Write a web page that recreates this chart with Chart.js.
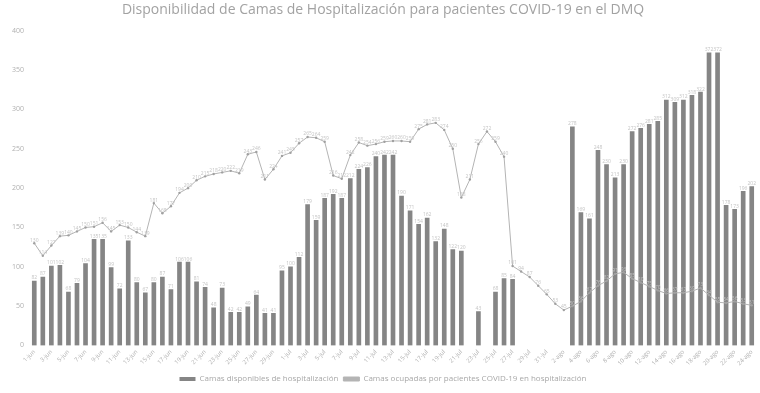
<!DOCTYPE html>
<html>
<head>
<meta charset="utf-8">
<script src="https://cdn.jsdelivr.net/npm/chart.js@4.4.0/dist/chart.umd.min.js"></script>
<style>
  html, body { margin: 0; padding: 0; background: #fff; }
  #wrap { width: 760px; height: 393px; }
</style>
</head>
<body>
<div id="wrap"><canvas id="myChart" width="760" height="393"></canvas></div>
<script>
// fechas (eje x)
const labels = [
  "1-jun","2-jun","3-jun","4-jun","5-jun","6-jun","7-jun","8-jun","9-jun","10-jun",
  "11-jun","12-jun","13-jun","14-jun","15-jun","16-jun","17-jun","18-jun","19-jun","20-jun",
  "21-jun","22-jun","23-jun","24-jun","25-jun","26-jun","27-jun","28-jun","29-jun","30-jun",
  "1-jul","2-jul","3-jul","4-jul","5-jul","6-jul","7-jul","8-jul","9-jul","10-jul",
  "11-jul","12-jul","13-jul","14-jul","15-jul","16-jul","17-jul","18-jul","19-jul","20-jul",
  "21-jul","22-jul","23-jul","24-jul","25-jul","26-jul","27-jul","28-jul","29-jul","30-jul",
  "31-jul","1-ago","2-ago","3-ago","4-ago","5-ago","6-ago","7-ago","8-ago","9-ago",
  "10-ago","11-ago","12-ago","13-ago","14-ago","15-ago","16-ago","17-ago","18-ago","19-ago",
  "20-ago","21-ago","22-ago","23-ago","24-ago"
];

// camas disponibles (barras)
const camasDisponibles = [
  82, 87, 101, 102, 68, 79, 104, 135, 135, 99,
  72, 133, 80, 67, 80, 87, 71, 106, 106, 81,
  74, 48, 73, 42, 42, 49, 64, 41, 41, 95,
  100, 112, 179, 159, 187, 192, 187, 212, 224, 226,
  240, 242, 242, 190, 171, 154, 162, 132, 148, 122,
  120, null, 43, null, 68, 85, 84, null, null, null,
  null, null, null, 278, 169, 161, 248, 230, 213, 230,
  272, 276, 281, 285, 312, 309, 312, 318, 322, 372,
  372, 178, 173, 196, 202
];

// camas ocupadas (linea)
const camasOcupadas = [
  130, 114, 127, 139, 140, 145, 150, 151, 156, 145,
  153, 150, 144, 139, 181, 168, 177, 194, 200, 210,
  215, 218, 220, 222, 219, 243, 246, 211, 224, 241,
  245, 257, 265, 264, 259, 216, 212, 242, 258, 254,
  256, 259, 260, 260, 259, 275, 281, 283, 274, 250,
  188, 211, 256, 272, 259, 240, 101, 94, 87, 76,
  65, 53, 45, 50, 56, 67, 76, 82, 91, 93,
  85, 80, 75, 70, 66, 67, 67, 69, 73, 64,
  55, 54, 56, 53, 51
];

const yTicks = [0, 50, 100, 150, 200, 250, 300, 350, 400];

// etiquetas de valor pequeñas sobre barras y puntos
const valueLabels = {
  id: "valueLabels",
  afterDatasetsDraw(chart) {
    const ctx = chart.ctx;
    ctx.save();
    ctx.font = "5px 'Open Sans'";
    ctx.fillStyle = "#c4c4c4";
    ctx.textAlign = "center";
    chart.data.datasets.forEach((ds, di) => {
      const meta = chart.getDatasetMeta(di);
      meta.data.forEach((el, i) => {
        const v = ds.data[i];
        if (v == null) return;
        ctx.fillText(v, el.x, el.y - 3);
      });
    });
    ctx.restore();
  }
};

const config = {
  type: "bar",
  data: {
    labels: labels,
    datasets: [
      {
        type: "bar",
        label: "Camas disponibles de hospitalización",
        data: camasDisponibles,
        backgroundColor: "#858585",
        barThickness: 4,
        order: 1
      },
      {
        type: "line",
        label: "Camas ocupadas por pacientes COVID-19 en hospitalización",
        data: camasOcupadas,
        borderColor: "#b4b4b4",
        backgroundColor: "#b4b4b4",
        borderWidth: 1,
        pointRadius: 1.2,
        pointBackgroundColor: "#a0a0a0",
        pointBorderWidth: 0,
        tension: 0,
        order: 0
      }
    ]
  },
  options: {
    responsive: false,
    animation: false,
    layout: { padding: { left: 6, right: 0, top: 0, bottom: 0 } },
    plugins: {
      title: {
        display: true,
        text: "Disponibilidad de Camas de Hospitalización para pacientes COVID-19 en el DMQ",
        color: "#a2a2a2",
        font: { family: "'Open Sans'", size: 14, weight: "normal" },
        padding: { top: 2, bottom: 12 }
      },
      legend: {
        position: "bottom",
        labels: {
          color: "#a8a8a8",
          font: { family: "'Open Sans'", size: 8 },
          boxWidth: 16,
          boxHeight: 4,
          padding: 5,
          sort: (a, b) => a.datasetIndex - b.datasetIndex
        }
      },
      tooltip: { enabled: false }
    },
    scales: {
      x: {
        grid: { display: false, drawTicks: false },
        border: { display: false },
        ticks: {
          color: "#b0b0b0",
          font: { family: "'Open Sans'", size: 6 },
          maxRotation: 45,
          minRotation: 45,
          autoSkip: false,
          padding: 3,
          callback: (v, i) => (i % 2 === 0 ? labels[i] : "")
        }
      },
      y: {
        min: 0,
        max: 400,
        grid: { display: false, drawTicks: false },
        border: { display: false },
        afterBuildTicks: (axis) => { axis.ticks = yTicks.map(v => ({ value: v })); },
        ticks: {
          color: "#b0b0b0",
          font: { family: "'Open Sans'", size: 7 },
          padding: 6
        }
      }
    }
  },
  plugins: [valueLabels]
};

var myChart = new Chart(document.getElementById("myChart"), config);
</script>
</body>
</html>
